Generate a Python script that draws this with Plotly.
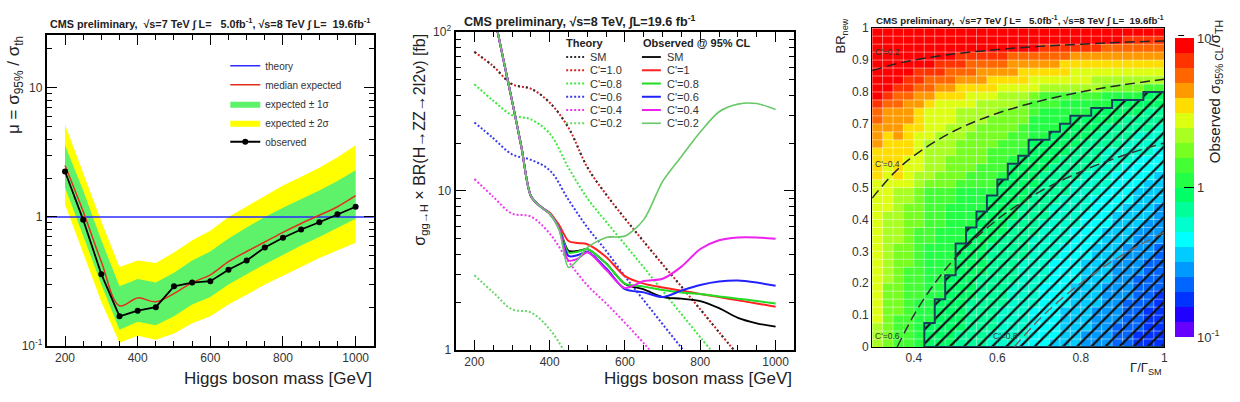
import numpy as np
import plotly.graph_objects as go

FONT = "Liberation Sans, Arial, Helvetica, sans-serif"
W, H = 1240, 402

# ---------------- Panel 1 : mu = sigma95 / sigma_th ----------------
MASS = [200, 250, 300, 350, 400, 450, 500, 550, 600, 650, 700, 750, 800, 850, 900, 950, 1000]
MU_OBS = [2.25, 0.95, 0.36, 0.17, 0.188, 0.20, 0.29, 0.31, 0.318, 0.39, 0.46, 0.58, 0.69, 0.80, 0.91, 1.05, 1.2]
MU_EXP = [2.5, 1.1, 0.45, 0.205, 0.236, 0.22, 0.255, 0.31, 0.356, 0.45, 0.54, 0.64, 0.76, 0.89, 1.03, 1.2, 1.46]
MU_P1 = [3.6, 1.6, 0.66, 0.29, 0.33, 0.31, 0.37, 0.46, 0.54, 0.68, 0.83, 1.0, 1.18, 1.38, 1.6, 1.9, 2.3]
MU_M1 = [1.7, 0.72, 0.30, 0.134, 0.154, 0.145, 0.17, 0.21, 0.24, 0.30, 0.36, 0.43, 0.51, 0.60, 0.70, 0.82, 0.97]
MU_P2 = [5.2, 2.2, 0.92, 0.41, 0.46, 0.44, 0.53, 0.66, 0.78, 1.0, 1.2, 1.45, 1.75, 2.05, 2.4, 2.9, 3.6]
MU_M2 = [1.25, 0.53, 0.22, 0.106, 0.12, 0.112, 0.125, 0.15, 0.17, 0.21, 0.25, 0.30, 0.35, 0.41, 0.48, 0.55, 0.63]
THEORY_MASS = [150, 1050]
THEORY_MU = [1.0, 1.0]

# ---------------- Panel 2 : sigma x BR limits ----------------
TH_C10 = [75, 61, 47, 44, 36, 25, 14.1, 9.5, 6.7, 4.8, 3.45, 2.5, 1.8, 1.29, 0.93]
TH_SM = [75, 61, 47, 44, 36, 25, 14.1, 9.5, 6.7, 4.8, 3.45, 2.5, 1.8, 1.29, 0.93]
TH_C08 = [47, 37, 30, 28.2, 23, 14, 9.0, 6.4, 4.6, 3.3, 2.35, 1.68, 1.2, 0.86]
TH_C06 = [27, 21.5, 17, 15.7, 13.5, 8.8, 5.9, 4.2, 2.9, 2.05, 1.45, 1.03, 0.73]
TH_C04 = [11.9, 9.2, 7.2, 6.9, 5.4, 3.6, 2.55, 1.96, 1.48, 1.1, 0.8]
TH_C02 = [2.95, 2.3, 1.8, 1.72, 1.35, 0.88]

OBS_MASS = [250, 275, 300, 325, 350, 375, 400, 425, 450, 475, 500, 550, 600, 650, 700, 750, 800, 850, 900, 950, 1000]
OBS_SM = [137, 71, 37, 18.9, 9.3, 8.0, 7.2, 5.9, 4.2, 4.2, 4.3, 3.5, 2.6, 2.4, 2.15, 2.1, 2.03, 1.83, 1.59, 1.47, 1.4]
OBS_C10 = [137, 71, 37, 18.9, 9.3, 8.0, 7.3, 6.1, 4.84, 4.7, 4.62, 3.84, 2.91, 2.61, 2.47, 2.36, 2.25, 2.15, 2.05, 1.96, 1.87]
OBS_C08 = [137, 71, 37, 18.9, 9.3, 8.0, 7.2, 5.9, 4.1, 4.15, 4.31, 3.5, 2.61, 2.5, 2.38, 2.3, 2.25, 2.17, 2.1, 2.03, 1.96]
OBS_C06 = [137, 71, 37, 18.9, 9.3, 8.0, 7.2, 5.8, 3.9, 3.95, 4.15, 3.26, 2.41, 2.3, 2.15, 2.36, 2.56, 2.69, 2.73, 2.65, 2.53]
OBS_C04 = [137, 71, 37, 18.9, 9.3, 8.0, 7.2, 5.8, 3.65, 3.75, 4.11, 3.19, 2.45, 2.71, 2.8, 3.34, 4.31, 4.9, 5.1, 5.1, 5.0]
OBS_C02 = [137, 71, 37, 18.9, 9.3, 8.0, 7.2, 5.7, 3.3, 3.7, 4.4, 5.1, 5.2, 6.6, 11.5, 16.5, 23.5, 31.5, 35.2, 35.5, 32.5]

THEORY_NAMES = ["SM", "C'=1.0", "C'=0.8", "C'=0.6", "C'=0.4", "C'=0.2"]
OBS_NAMES = ["SM", "C'=1", "C'=0.8", "C'=0.6", "C'=0.4", "C'=0.2"]

# ---------------- Panel 3 : 2D map ----------------
GAMMA_EDGES = np.round(np.linspace(0.3, 1.0, 29), 4)
BRNEW_EDGES = np.round(np.linspace(0.0, 1.0, 41), 4)
# palette level (0..9, a=10 .. j=19) of each cell, run-length coded per Gamma column,
# BR_new running from the bottom (0) to the top (1)
HEAT_COLUMNS = [
    "d:3 e:18 f:4 g:3 h:2 i:1 j:9",
    "c:8 d:9 e:6 f:4 g:3 h:1 i:1 j:8",
    "b:4 c:9 d:7 e:1 f:5 g:4 h:2 i:1 j:7",
    "b:10 c:8 d:2 e:4 f:4 g:3 h:1 i:2 j:6",
    "a:6 b:9 c:5 d:2 e:5 f:3 g:2 h:1 i:2 j:5",
    "9:3 a:10 b:7 c:1 d:5 e:4 f:1 g:1 h:2 i:1 j:5",
    "9:6 a:9 b:5 c:2 d:5 e:4 f:1 g:1 h:1 i:2 j:4",
    "9:9 a:9 b:2 c:4 d:4 e:3 f:1 g:1 h:2 i:1 j:4",
    "8:2 9:11 a:7 b:1 c:5 d:4 e:1 f:2 g:1 h:1 i:2 j:3",
    "8:6 9:9 a:5 b:2 c:5 d:3 e:2 f:1 g:1 h:2 i:1 j:3",
    "8:9 9:8 a:3 b:3 c:5 d:3 e:1 f:1 g:2 h:1 i:1 j:3",
    "7:2 8:11 9:6 a:1 b:5 c:4 d:2 e:1 f:2 g:1 h:1 i:1 j:3",
    "7:5 8:9 9:7 a:1 b:4 c:4 d:2 e:1 f:1 g:1 h:1 i:1 j:3",
    "7:8 8:8 9:7 a:1 b:3 c:3 d:2 e:1 f:1 g:2 h:1 j:3",
    "6:1 7:10 8:7 9:6 a:1 b:3 c:3 d:1 e:1 f:2 g:1 h:1 j:3",
    "6:5 7:9 8:6 9:6 a:3 b:2 c:1 e:2 f:1 g:1 h:1 j:3",
    "6:8 7:8 8:6 9:4 a:4 b:2 d:1 e:1 f:1 g:1 h:1 i:1 j:2",
    "5:1 6:10 7:7 8:5 9:4 a:3 b:2 d:1 e:1 f:1 g:1 h:1 i:1 j:2",
    "5:5 6:8 7:6 8:5 9:4 a:3 b:1 d:1 e:1 f:2 h:1 i:1 j:2",
    "5:8 6:7 7:6 8:4 9:4 a:2 b:1 d:1 e:2 f:1 g:1 i:1 j:2",
    "4:2 5:9 6:6 7:5 8:4 9:3 a:2 b:1 d:1 e:2 f:1 g:1 i:1 j:2",
    "4:5 5:8 6:6 7:4 8:4 9:3 a:1 b:1 d:2 e:1 f:1 g:1 i:1 j:2",
    "4:8 5:7 6:5 7:5 8:3 9:2 a:2 c:1 d:1 e:1 f:1 g:1 h:1 j:2",
    "3:3 4:8 5:6 6:5 7:3 8:3 9:3 a:1 c:1 d:1 e:1 f:1 g:1 h:1 j:2",
    "3:6 4:7 5:5 6:5 7:3 8:3 9:2 a:1 c:1 d:1 e:1 f:1 g:1 h:1 i:1 j:1",
    "2:2 3:7 4:6 5:5 6:4 7:3 8:2 9:2 a:1 c:1 d:1 e:1 f:1 g:1 h:1 i:1 j:1",
    "2:5 3:6 4:5 5:5 6:3 7:3 8:3 9:2 b:1 d:1 e:1 f:1 g:1 h:1 i:1 j:1",
    "2:7 3:6 4:5 5:4 6:3 7:3 8:2 9:2 b:1 d:1 e:1 f:1 g:1 h:1 i:1 j:1",
]
PALETTE = ["#6600ff", "#2200ff", "#0033ff", "#0066ff", "#0099ff", "#00ccff", "#00ffff",
           "#00ffcc", "#00ff99", "#00ff66", "#22ff44", "#44ff33", "#77ff22", "#aaff22",
           "#ddff11", "#ffdd00", "#ff9900", "#ff6600", "#ff3300", "#ff0000"]
CPRIME_LABELS = ["C'=0.2", "C'=0.4", "C'=0.6", "C'=0.8"]
C02_G = [0.3, 0.35, 0.4, 0.5, 0.6, 0.7, 0.8, 0.9, 1.0]
C02_BR = [0.867, 0.886, 0.9, 0.92, 0.933, 0.943, 0.95, 0.956, 0.96]
C04_G = [0.3, 0.35, 0.4, 0.5, 0.6, 0.7, 0.8, 0.9, 1.0]
C04_BR = [0.467, 0.543, 0.6, 0.68, 0.733, 0.771, 0.8, 0.822, 0.84]
C06_G = [0.36, 0.4, 0.45, 0.5, 0.6, 0.7, 0.8, 0.9, 1.0]
C06_BR = [0.0, 0.1, 0.2, 0.28, 0.4, 0.486, 0.55, 0.6, 0.64]
C08_G = [0.64, 0.7, 0.75, 0.8, 0.85, 0.9, 0.95, 1.0]
C08_BR = [0.0, 0.086, 0.147, 0.2, 0.247, 0.289, 0.326, 0.36]


def px(x):
    return x / W


def py(y):
    return 1 - y / H


fig = go.Figure()

# ---- panel 1 traces
fig.add_trace(go.Scatter(x=MASS + MASS[::-1], y=MU_P2 + MU_M2[::-1], fill="toself", fillcolor="#ffff00",
                         mode="lines", line=dict(width=0, color="#ffff00"), name="expected ± 2σ",
                         legendrank=4, hoverinfo="skip", xaxis="x", yaxis="y"))
fig.add_trace(go.Scatter(x=MASS + MASS[::-1], y=MU_P1 + MU_M1[::-1], fill="toself", fillcolor="#5ef26a",
                         mode="lines", line=dict(width=0, color="#5ef26a"), name="expected ± 1σ",
                         legendrank=3, hoverinfo="skip", xaxis="x", yaxis="y"))
fig.add_trace(go.Scatter(x=THEORY_MASS, y=THEORY_MU, mode="lines", line=dict(color="#2b2bff", width=1.5),
                         name="theory", legendrank=1, xaxis="x", yaxis="y"))
fig.add_trace(go.Scatter(x=MASS, y=MU_EXP, mode="lines", line=dict(color="#e0301e", width=1.5, shape="spline"),
                         name="median expected", legendrank=2, xaxis="x", yaxis="y"))
fig.add_trace(go.Scatter(x=MASS, y=MU_OBS, mode="lines+markers", line=dict(color="black", width=1.8),
                         marker=dict(color="black", size=6), name="observed", legendrank=5,
                         xaxis="x", yaxis="y"))

# ---- panel 2 traces
th_curves = [(TH_C10, "#dd2222", "2px,2px"), (TH_SM, "#333333", "2px,6px"), (TH_C08, "#3ee83e", "2px,2px"),
             (TH_C06, "#3a3aee", "2px,2px"), (TH_C04, "#ee3aee", "2px,2px"), (TH_C02, "#6cd66c", "2px,2px")]
for vals, col, dash in th_curves:
    fig.add_trace(go.Scatter(x=MASS[:len(vals)], y=vals, mode="lines",
                             line=dict(color=col, width=2, dash=dash, shape="spline"),
                             showlegend=False, xaxis="x2", yaxis="y2"))
obs_curves = [(OBS_SM, "#000000", 1.8), (OBS_C10, "#ff2222", 2), (OBS_C08, "#22dd22", 2),
              (OBS_C06, "#2222ff", 2), (OBS_C04, "#ee22ee", 2), (OBS_C02, "#66c866", 1.6)]
for vals, col, w in obs_curves:
    fig.add_trace(go.Scatter(x=OBS_MASS, y=vals, mode="lines",
                             line=dict(color=col, width=w, shape="spline", smoothing=0.8),
                             showlegend=False, xaxis="x2", yaxis="y2"))

# ---- panel 3 traces
LEVEL_CHARS = "0123456789abcdefghij"
levels = []
for col in HEAT_COLUMNS:
    seq = []
    for tok in col.split():
        ch, n = tok.split(":")
        seq += [LEVEL_CHARS.index(ch)] * int(n)
    levels.append(seq[:40] + [seq[-1]] * (40 - len(seq)))
levels = np.array(levels)
zlog = ((levels + 0.5) / 10.0 - 1.0).T
g_c = (GAMMA_EDGES[:-1] + GAMMA_EDGES[1:]) / 2
b_c = (BRNEW_EDGES[:-1] + BRNEW_EDGES[1:]) / 2
cscale = []
for k, c in enumerate(PALETTE):
    cscale.append([k / 20, c])
    cscale.append([(k + 1) / 20, c])
CB_TOP, CB_BOT, CB_LEFT, CB_W = 20, 352, 1169, 19
fig.add_trace(go.Heatmap(x=g_c, y=b_c, z=zlog, zmin=-1, zmax=1, colorscale=cscale,
                         xaxis="x3", yaxis="y3", hoverinfo="skip",
                         colorbar=dict(x=px(CB_LEFT), xanchor="left", thickness=CB_W, len=(CB_BOT - CB_TOP) / H,
                                       y=(py(CB_TOP) + py(CB_BOT)) / 2, yanchor="middle", outlinewidth=0,
                                       tickvals=[-1.0, 0.0, 1.0], ticktext=["10<sup>-1</sup>", "1", "10"],
                                       ticks="inside", ticklen=10, tickcolor="black",
                                       tickfont=dict(size=13, family=FONT, color="#333"))))

# faint cell borders along the bin edges
gx_l, gy_l = [], []
for e in GAMMA_EDGES[1:-1]:
    gx_l += [e, e, None]; gy_l += [0, 1, None]
for e in BRNEW_EDGES[1:-1]:
    gx_l += [0.3, 1.0, None]; gy_l += [e, e, None]
fig.add_trace(go.Scatter(x=gx_l, y=gy_l, mode="lines", line=dict(color="rgba(255,255,255,0.45)", width=1),
                         showlegend=False, hoverinfo="skip", xaxis="x3", yaxis="y3"))

# exclusion (observed < 1) staircase from the cell levels
excl = levels < 10
heights = []
for col in excl:
    h = 0
    while h < len(col) and col[h]:
        h += 1
    heights.append(h)
first = next(i for i, h in enumerate(heights) if h > 0)
hx, hy = [GAMMA_EDGES[first]], [0.0]
for i in range(first, len(heights)):
    hx += [GAMMA_EDGES[i], GAMMA_EDGES[i + 1]]
    hy += [BRNEW_EDGES[heights[i]], BRNEW_EDGES[heights[i]]]
hx.append(GAMMA_EDGES[-1]); hy.append(0.0)
hx.append(GAMMA_EDGES[first]); hy.append(0.0)
fig.add_trace(go.Scatter(x=hx, y=hy, mode="lines", fill="toself", fillcolor="#111111",
                         fillpattern=dict(shape="/", fgcolor="#111111", fillmode="replace",
                                          size=10, solidity=0.22),
                         line=dict(color="#17405c", width=2), showlegend=False, hoverinfo="skip",
                         xaxis="x3", yaxis="y3"))
for gx, gy, col in [(C02_G, C02_BR, "#262626"), (C04_G, C04_BR, "#262626"), (C06_G, C06_BR, "#333"),
                    (C08_G, C08_BR, "#666")]:
    fig.add_trace(go.Scatter(x=gx, y=gy, mode="lines",
                             line=dict(color=col, width=1.5, dash="10px,5px", shape="spline"),
                             showlegend=False, hoverinfo="skip", xaxis="x3", yaxis="y3"))

# ---------------- layout ----------------
axis_common = dict(showline=True, linecolor="black", mirror="allticks", ticks="inside",
                   showgrid=False, zeroline=False, tickcolor="black",
                   tickfont=dict(size=12, family=FONT, color="#333"))
log_minor1 = [m * d for d in (0.1, 1.0, 10.0) for m in range(2, 10) if m * d < 26]
log_minor2 = [m * d for d in (1.0, 10.0) for m in range(2, 10)]

fig.update_layout(
    width=W, height=H, margin=dict(l=0, r=0, t=0, b=0),
    paper_bgcolor="white", plot_bgcolor="white",
    font=dict(family=FONT, color="#222"),
    xaxis=dict(domain=[px(47), px(375)], range=[150, 1050], tickvals=[200, 400, 600, 800, 1000],
               ticklen=10, linewidth=2, anchor="y",
               minor=dict(dtick=50, tick0=0, ticks="inside", ticklen=5, tickcolor="black"), **axis_common),
    yaxis=dict(domain=[py(351), py(27)], type="log", range=[-1, 1.41], tickvals=[0.1, 1, 10],
               ticktext=["10<sup>-1</sup>", "1", "10"], ticklen=10, linewidth=2, anchor="x",
               minor=dict(tickvals=log_minor1, ticks="inside", ticklen=5, tickcolor="black"), **axis_common),
    xaxis2=dict(domain=[px(457), px(797)], range=[150, 1050], tickvals=[200, 400, 600, 800, 1000],
                ticklen=10, linewidth=2, anchor="y2",
                minor=dict(dtick=50, tick0=0, ticks="inside", ticklen=5, tickcolor="black"), **axis_common),
    yaxis2=dict(domain=[py(355), py(24)], type="log", range=[0, 2], tickvals=[1, 10, 100],
                ticktext=["1", "10", "10<sup>2</sup>"], ticklen=10, linewidth=2, anchor="x2",
                minor=dict(tickvals=log_minor2, ticks="inside", ticklen=5, tickcolor="black"), **axis_common),
    xaxis3=dict(domain=[px(875), px(1168)], range=[0.3, 1.0], tickvals=[0.4, 0.6, 0.8, 1.0],
                ticktext=["0.4", "0.6", "0.8", "1"], showline=True, linecolor="black", linewidth=1,
                mirror=True, ticks="", showgrid=False, zeroline=False, anchor="y3",
                tickfont=dict(size=12, family=FONT, color="#333")),
    yaxis3=dict(domain=[py(352), py(20)], range=[0, 1], tickvals=[i / 10 for i in range(11)],
                ticktext=["0", "0.1", "0.2", "0.3", "0.4", "0.5", "0.6", "0.7", "0.8", "0.9", "1"],
                showline=True, linecolor="black", linewidth=1, mirror=True, ticks="", showgrid=False,
                zeroline=False, anchor="x3", tickfont=dict(size=12, family=FONT, color="#333")),
    legend=dict(x=px(226), y=py(44), xanchor="left", yanchor="top", bgcolor="rgba(0,0,0,0)",
                font=dict(size=10, family=FONT, color="#333"), tracegroupgap=0, itemwidth=30),
)

ann = []


def text(x, y, s, size, xanchor="left", yanchor="middle", angle=0, color="#222", xref="paper", yref="paper"):
    ann.append(dict(x=x, y=y, xref=xref, yref=yref, text=s, showarrow=False, xanchor=xanchor,
                    yanchor=yanchor, textangle=angle, font=dict(size=size, family=FONT, color=color)))


cms1 = "<b>CMS preliminary,  √s=7 TeV ∫ L=   5.0fb<sup>-1</sup>, √s=8 TeV ∫ L=  19.6fb<sup>-1</sup></b>"
text(px(48), py(15), cms1, 10.8)
text(px(463), py(13), "<b>CMS preliminary, √s=8 TeV, ∫L=19.6 fb<sup>-1</sup></b>", 12.6)
text(px(877), py(12), cms1, 9.7)
text(px(375), py(385), "Higgs boson mass [GeV]", 17, xanchor="right")
text(px(797), py(385), "Higgs boson mass [GeV]", 17, xanchor="right")
text(px(15), py(26), "μ = σ<sub>95%</sub> / σ<sub>th</sub>", 17, xanchor="center", yanchor="top", angle=-90)
text(px(421), py(24), "σ<sub>gg→H</sub> × BR(H→ZZ→2l2ν) [fb]", 16, xanchor="center", yanchor="top", angle=-90)
text(px(844), py(8), "BR<sub>new</sub>", 13, xanchor="center", yanchor="top", angle=-90)
text(px(1168), py(374), "Γ/Γ<sub>SM</sub>", 13, xanchor="right")
text(px(1219), py(10), "Observed σ<sub>95% CL</sub>/σ<sub>TH</sub>", 15, xanchor="center", yanchor="top", angle=-90)

# C' labels on the map
for (gx, gy), lab in zip([(0.303, 0.925), (0.303, 0.575), (0.303, 0.035), (0.585, 0.035)], CPRIME_LABELS):
    text(gx, gy, lab, 8.5, color="#333", xref="x3", yref="y3")

shapes = []
# minor ticks of the logarithmic colour scale (2..9 x 0.1 and 2..9 x 1)
for d in (0.1, 1.0):
    for m in range(2, 10):
        frac = (np.log10(m * d) + 1.0) / 2.0
        yy = py(CB_BOT) + frac * (py(CB_TOP) - py(CB_BOT))
        shapes.append(dict(type="line", xref="paper", yref="paper", x0=px(CB_LEFT + CB_W - 6),
                           x1=px(CB_LEFT + CB_W), y0=yy, y1=yy, line=dict(color="black", width=1)))

# custom two-column legend for panel 2
text(px(566), py(35), "<b>Theory</b>", 11)
text(px(643), py(35), "<b>Observed @ 95% CL</b>", 11)
for k in range(6):
    yy = py(50 + 13.8 * k)
    tcol = th_curves[k if k > 1 else (1 if k == 0 else 0)][1]
    shapes.append(dict(type="line", xref="paper", yref="paper", x0=px(568), x1=px(586), y0=yy, y1=yy,
                       line=dict(color=tcol, width=2, dash="2px,2px")))
    text(px(590), yy, THEORY_NAMES[k], 11, color="#333")
    ocol, ow = obs_curves[k][1], obs_curves[k][2]
    shapes.append(dict(type="line", xref="paper", yref="paper", x0=px(644), x1=px(663), y0=yy, y1=yy,
                       line=dict(color=ocol, width=ow)))
    text(px(667), yy, OBS_NAMES[k], 11, color="#333")

fig.update_layout(annotations=ann, shapes=shapes)
fig.write_html("out.html")
